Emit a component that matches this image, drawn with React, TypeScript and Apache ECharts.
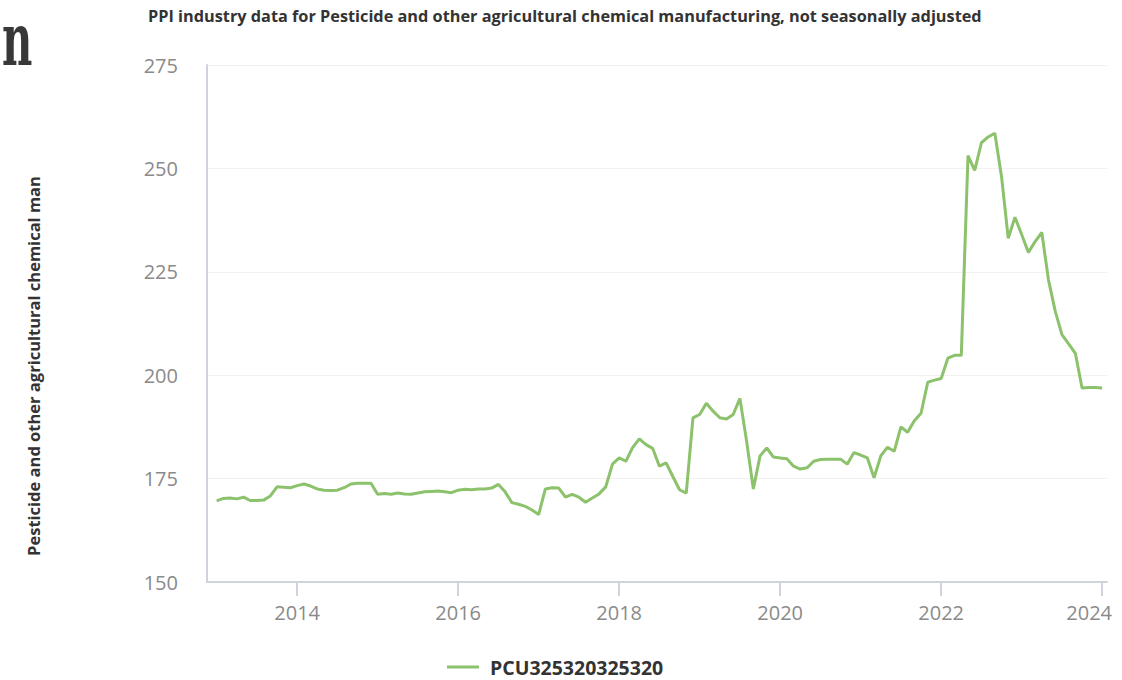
import React, { useEffect, useRef } from "react";
import * as echarts from "echarts";

const chartTitle =
  "PPI industry data for Pesticide and other agricultural chemical manufacturing, not seasonally adjusted";
const yAxisTitle = "Pesticide and other agricultural chemical man";
const seriesName = "PCU325320325320";

const startYear = 2013;
const v2013 = [169.6, 170.2, 170.3, 170.1, 170.5, 169.7, 169.7, 169.8, 170.8, 173.0, 172.9, 172.8];
const v2014 = [173.3, 173.7, 173.2, 172.5, 172.2, 172.1, 172.2, 172.8, 173.7, 173.9, 173.9, 173.9];
const v2015 = [171.2, 171.4, 171.2, 171.5, 171.3, 171.2, 171.5, 171.8, 171.9, 172.0, 171.8, 171.6];
const v2016 = [172.2, 172.4, 172.3, 172.5, 172.5, 172.7, 173.6, 171.8, 169.2, 168.8, 168.3, 167.4];
const v2017 = [166.3, 172.5, 172.8, 172.7, 170.5, 171.2, 170.5, 169.3, 170.3, 171.3, 173.0, 178.5];
const v2018 = [180.0, 179.2, 182.5, 184.6, 183.2, 182.3, 178.0, 178.8, 175.5, 172.3, 171.5, 189.7];
const v2019 = [190.5, 193.2, 191.3, 189.7, 189.4, 190.5, 194.4, 184.0, 172.5, 180.5, 182.4, 180.2];
const v2020 = [180.0, 179.8, 178.0, 177.3, 177.6, 179.2, 179.6, 179.7, 179.7, 179.7, 178.5, 181.3];
const v2021 = [180.7, 180.0, 175.2, 180.5, 182.6, 181.6, 187.5, 186.2, 189.0, 190.8, 198.3, 198.8];
const v2022 = [199.2, 204.1, 204.8, 204.8, 253.1, 249.5, 256.2, 257.6, 258.5, 248.0, 233.1, 238.2];
const v2023 = [234.0, 229.7, 232.3, 234.5, 223.0, 215.5, 209.8, 207.6, 205.3, 196.9, 197.0, 197.0];
const v2024 = [196.9];
const yearlyValues = [v2013, v2014, v2015, v2016, v2017, v2018, v2019, v2020, v2021, v2022, v2023, v2024];

const xTickYears = [2014, 2016, 2018, 2020, 2022, 2024];
const xMin = 2012.88;
const xMax = 2024.06;
const yMin = 150;
const yMax = 275;
const yStep = 25;

const FONT = '"Open Sans", "DejaVu Sans", sans-serif';

export default function App() {
  const ref = useRef<HTMLDivElement>(null);
  useEffect(() => {
    if (!ref.current) return;
    const chart = echarts.init(ref.current, null, { renderer: "svg" });
    const data = yearlyValues.flatMap((arr, i) =>
      arr.map((v, m) => [startYear + i + m / 12, v])
    );
    const lastYear = xTickYears[xTickYears.length - 1];
    chart.setOption({
      animation: false,
      backgroundColor: "#ffffff",
      textStyle: { fontFamily: FONT },
      title: {
        text: chartTitle,
        left: 148,
        top: 8,
        padding: 0,
        textStyle: { fontSize: 16.3, fontWeight: "bold", color: "#333333", fontFamily: FONT },
      },
      grid: { left: 207, right: 15, top: 65, bottom: 98, containLabel: false },
      legend: {
        left: 447,
        top: 657,
        padding: 0,
        icon: "rect",
        itemWidth: 32,
        itemHeight: 3,
        textStyle: { fontSize: 19.5, fontWeight: "bold", color: "#333333", fontFamily: FONT, padding: [0, 0, 0, 6] },
        data: [seriesName],
      },
      xAxis: {
        type: "value",
        min: xMin,
        max: xMax,
        axisLine: { show: true, lineStyle: { color: "#cfd3db", width: 2 } },
        axisTick: { show: true, customValues: xTickYears, length: 14, lineStyle: { color: "#cfd3db", width: 2 } },
        axisLabel: {
          customValues: xTickYears,
          margin: 20,
          formatter: (v: number) => (Math.round(v) === lastYear ? `{last|${Math.round(v)}}` : `{n|${Math.round(v)}}`),
          rich: {
            n: { fontSize: 20, color: "#8a8a8a", fontFamily: FONT },
            last: { fontSize: 20, color: "#8a8a8a", fontFamily: FONT, padding: [0, 26, 0, 0] },
          },
        },
        splitLine: { show: false },
      },
      yAxis: {
        type: "value",
        min: yMin,
        max: yMax,
        interval: yStep,
        axisLine: { show: true, lineStyle: { color: "#cfd3db", width: 2 } },
        axisTick: { show: false },
        axisLabel: { margin: 29, fontSize: 20, color: "#8a8a8a", fontFamily: FONT },
        splitLine: { show: true, lineStyle: { color: "#f1f1f1", width: 1 } },
      },
      graphic: [
        {
          type: "text",
          x: 33,
          y: 366,
          rotation: Math.PI / 2,
          style: {
            text: yAxisTitle,
            fontSize: 16.5,
            fontWeight: "bold",
            fontFamily: FONT,
            fill: "#333333",
            textAlign: "center",
            textVerticalAlign: "middle",
          },
        },
        {
          type: "text",
          x: 2,
          y: 4,
          scaleX: 0.58,
          style: {
            text: "n",
            fontSize: 72,
            fontWeight: "bold",
            fontFamily: '"DejaVu Serif", serif',
            fill: "#383838",
            textAlign: "left",
            textVerticalAlign: "top",
          },
        },
      ],
      series: [
        {
          name: seriesName,
          type: "line",
          data,
          showSymbol: false,
          symbol: "none",
          lineStyle: { color: "#8cc26b", width: 3 },
          itemStyle: { color: "#8cc26b" },
        },
      ],
    });
    return () => chart.dispose();
  }, []);
  return <div ref={ref} style={{ position: "absolute", left: 0, top: 0, width: 1122, height: 680 }} />;
}
